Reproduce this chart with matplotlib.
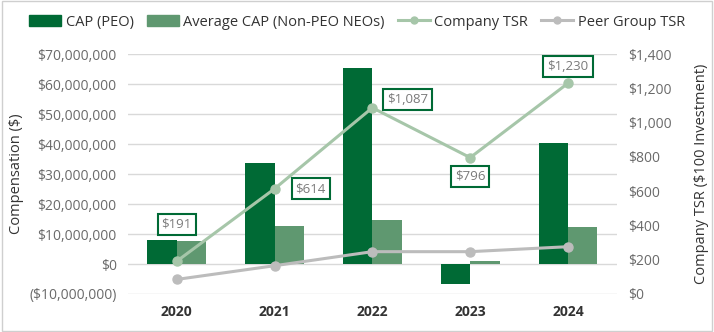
import matplotlib
matplotlib.use("Agg")
import matplotlib.pyplot as plt
from matplotlib.ticker import FuncFormatter
from matplotlib.lines import Line2D
from matplotlib.patches import Patch, Rectangle
import numpy as np

years = ["2020", "2021", "2022", "2023", "2024"]
cap_peo = [8.0e6, 33.8e6, 65.3e6, -6.7e6, 40.3e6]
cap_non_peo = [7.7e6, 12.7e6, 14.7e6, 1.0e6, 12.3e6]
company_tsr = [191, 614, 1087, 796, 1230]
peer_tsr = [85, 165, 247, 247, 276]

# label placement offsets (x in category units, y in TSR units)
label_offsets = [(0.0, 215), (0.37, 0), (0.36, 50), (0.0, -110), (0.0, 100)]

C_PEO = "#006a35"
C_NON = "#5f9870"
C_TSR = "#a6c6a9"
C_PEER = "#bcbcbc"
TICK = "#6a6a6a"
LABEL = "#333333"

plt.rcParams["font.family"] = ["Open Sans", "DejaVu Sans"]

fig = plt.figure(figsize=(7.14, 3.32), dpi=100)
fig.patches.append(Rectangle((0.003, 0.004), 0.994, 0.992, transform=fig.transFigure,
                             fill=False, edgecolor="#cfcfcf", linewidth=1.0))
ax = fig.add_axes([0.179, 0.1145, 0.685, 0.7225])
x = np.arange(len(years))
w = 0.3
ax.bar(x - w / 2, cap_peo, w, color=C_PEO, zorder=2)
ax.bar(x + w / 2, cap_non_peo, w, color=C_NON, zorder=2)
ax.set_ylim(-10e6, 70e6)
ax.set_yticks(np.arange(-10e6, 70e6 + 1, 10e6))

def money(v, _):
    if v < 0:
        return "(${:,.0f})".format(-v)
    return "${:,.0f}".format(v)

ax.yaxis.set_major_formatter(FuncFormatter(money))
ax.grid(axis="y", color="#d9d9d9", linewidth=1.0, zorder=0)
ax.set_axisbelow(True)
ax.set_xlim(-0.5, 4.5)
ax.set_xticks(x)
ax.set_xticklabels(years, fontsize=10, fontweight="bold", color=LABEL)
for s in ax.spines.values():
    s.set_visible(False)
ax.tick_params(axis="both", length=0)
ax.tick_params(axis="y", labelsize=10, labelcolor=TICK, pad=8)
ax.tick_params(axis="x", pad=8)
ax.set_ylabel("Compensation ($)", fontsize=10.5, color=LABEL, labelpad=4)

ax2 = ax.twinx()
ax2.set_ylim(0, 1400)
ax2.set_yticks(np.arange(0, 1401, 200))
ax2.yaxis.set_major_formatter(FuncFormatter(lambda v, _: "${:,.0f}".format(v)))
for s in ax2.spines.values():
    s.set_visible(False)
ax2.tick_params(axis="y", length=0, labelsize=10, labelcolor=TICK, pad=8)
ax2.set_ylabel("Company TSR ($100 Investment)", fontsize=10.5, color=LABEL, labelpad=16)

ax2.plot(x, company_tsr, color=C_TSR, linewidth=2.2, marker="o", markersize=6.5, zorder=3)
ax2.plot(x, peer_tsr, color=C_PEER, linewidth=2.2, marker="o", markersize=6.5, zorder=3)

for i, v in enumerate(company_tsr):
    dx, dy = label_offsets[i]
    ax2.text(x[i] + dx, v + dy, "${:,.0f}".format(v), ha="center", va="center",
             fontsize=9.5, color="#7a7a7a", zorder=5,
             bbox=dict(boxstyle="square,pad=0.3", facecolor="white",
                       edgecolor=C_PEO, linewidth=1.5))

handles = [
    Patch(color=C_PEO, label="CAP (PEO)"),
    Patch(color=C_NON, label="Average CAP (Non-PEO NEOs)"),
    Line2D([], [], color=C_TSR, linewidth=2.2, marker="o", markersize=5, label="Company TSR"),
    Line2D([], [], color=C_PEER, linewidth=2.2, marker="o", markersize=5, label="Peer Group TSR"),
]
fig.legend(handles=handles, loc="upper center", bbox_to_anchor=(0.5, 0.995), ncol=4,
           frameon=False, fontsize=10.5, handlelength=2.2, handleheight=0.8,
           columnspacing=0.9, handletextpad=0.3, labelcolor=LABEL)

fig.savefig("out.png", dpi=100)
